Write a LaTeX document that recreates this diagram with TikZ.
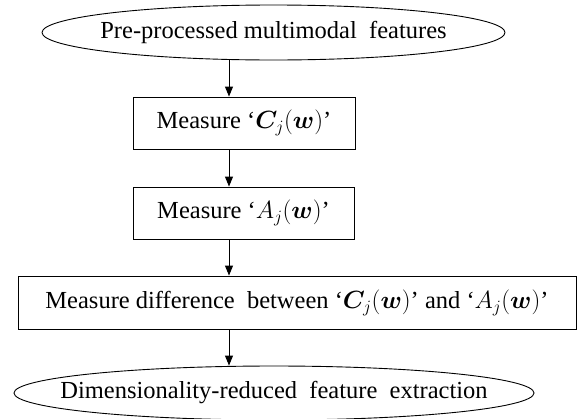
\documentclass[tikz,border=0pt]{standalone}
\usepackage{amsmath,bm}
\usepackage{fontspec}
\setmainfont{Liberation Serif}
\usetikzlibrary{shapes.geometric,arrows.meta}
\begin{document}
\begin{tikzpicture}[x=1pt,y=-1pt,
  every node/.style={font=\fontsize{24.5}{28}\selectfont},
  oval/.style={draw,ellipse,line width=0.9pt,inner sep=0pt},
  box/.style={draw,rectangle,line width=0.9pt,inner sep=0pt},
  arr/.style={-{Triangle[length=10pt,width=8pt]},line width=0.9pt}]
\useasboundingbox (0,0) rectangle (577,418);
\node[oval,minimum width=463pt,minimum height=55pt] (top) at (273.5,32.5)
  {\makebox[0pt]{Pre-processed multimodal\ \ features}};
\node[box,minimum width=222pt,minimum height=52pt] (b1) at (244,123)
  {Measure `$\bm{C}_j(\bm{w})$'};
\node[box,minimum width=221pt,minimum height=52pt] (b2) at (243.5,213)
  {Measure `$A_j(\bm{w})$'};
\node[box,minimum width=558pt,minimum height=53pt] (b3) at (297,302.5)
  {Measure difference\ \ between `$\bm{C}_j(\bm{w})$' and `$A_j(\bm{w})$'};
\node[oval,minimum width=520pt,minimum height=54pt] (bot) at (274,393)
  {\makebox[0pt]{Dimensionality-reduced\ \ feature\ \ extraction}};
\coordinate (ax) at (229,0);
\draw[arr] (ax |- top.south) -- (ax |- b1.north);
\draw[arr] (ax |- b1.south) -- (ax |- b2.north);
\draw[arr] (ax |- b2.south) -- (ax |- b3.north);
\draw[arr] (ax |- b3.south) -- (ax |- bot.north);
\end{tikzpicture}
\end{document}
